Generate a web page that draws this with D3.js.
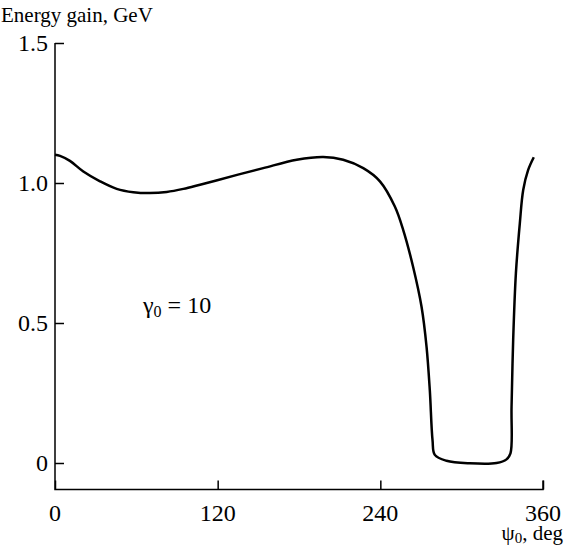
<!DOCTYPE html>
<html>
<head>
<meta charset="utf-8">
<script src="https://cdn.jsdelivr.net/npm/d3@7"></script>
<style>
  body { margin: 0; background: #fff; }
</style>
</head>
<body>
<svg id="chart"></svg>
<script>
// phase angle psi0 (deg) and energy gain (GeV)
const psi = [0, 3.7, 11, 20.9, 33.2, 45.5, 57.8, 70, 82.4, 94.7, 107, 119, 135,
  153.6, 178.3, 197.9, 212.6, 227.4, 239.7, 250.7, 256.9, 264.2, 270.4, 274.1,
  276.5, 278.5, 280.2, 288.8, 306, 325.7, 333.1, 336, 336.8, 338, 340, 342.9,
  345.4, 349, 353.2]
const gain = [1.101, 1.097, 1.079, 1.041, 1.006, 0.979, 0.967, 0.964, 0.968, 0.979, 0.994, 1.009, 1.030,
  1.053, 1.083, 1.093, 1.083, 1.053, 1.006, 0.916, 0.832, 0.70, 0.558, 0.415,
  0.26, 0.082, 0.029, 0.008, -0.001, 0.0, 0.013, 0.034, 0.2, 0.44, 0.677, 0.856,
  0.975, 1.046, 1.092]
const xTicks = [0, 120, 240, 360]
const yTicks = [0, 0.5, 1.0, 1.5]

const width = 567
const height = 547
const serif = "'Liberation Serif'"
const svg = d3.select('#chart').attr('width', width).attr('height', height)

const x = d3.scaleLinear().domain([0, 360]).range([55, 543])
const y = d3.scaleLinear().domain([0, 1.5]).range([463, 43])
const yBottom = 489.5

// axes
const xAxis = d3.axisTop(x).tickValues(xTicks).tickSize(9).tickFormat('')
svg.append('g')
    .attr('transform', 'translate(0,' + yBottom + ')')
    .call(xAxis)
    .call(g => g.select('.domain').remove())
    .call(g => g.selectAll('line').attr('stroke', '#000').attr('stroke-width', 1.5))

const yAxis = d3.axisRight(y).tickValues(yTicks).tickSize(9).tickFormat('')
svg.append('g')
    .attr('transform', 'translate(' + x(0) + ',0)')
    .call(yAxis)
    .call(g => g.select('.domain').remove())
    .call(g => g.selectAll('line').attr('stroke', '#000').attr('stroke-width', 1.5))

svg.append('path')
    .attr('d', 'M' + x(0) + ',' + y(1.5) + 'V' + yBottom + 'H' + x(360) + 'V' + (yBottom - 9))
    .attr('fill', 'none')
    .attr('stroke', '#000')
    .attr('stroke-width', 1.5)

// tick labels
svg.selectAll('.xlab').data(xTicks).enter().append('text')
    .attr('x', d => x(d))
    .attr('y', 521)
    .attr('text-anchor', 'middle')
    .style('font-family', serif)
    .attr('font-size', 24)
    .text(d => d)

svg.selectAll('.ylab').data(yTicks).enter().append('text')
    .attr('x', 48)
    .attr('y', d => y(d) + 8)
    .attr('text-anchor', 'end')
    .style('font-family', serif)
    .attr('font-size', 24)
    .text(d => d === 0 ? '0' : d.toFixed(1))

// axis titles
svg.append('text').attr('x', 1).attr('y', 22).style('font-family', serif)
    .attr('font-size', 21).text('Energy gain, GeV')

const xt = svg.append('text').attr('x', 563).attr('y', 540).attr('text-anchor', 'end')
    .style('font-family', serif).attr('font-size', 21)
xt.append('tspan').text('ψ')
xt.append('tspan').attr('font-size', 15).attr('dy', 3).text('0')
xt.append('tspan').attr('dy', -3).text(', deg')

const lab = svg.append('text').attr('x', 143).attr('y', 313)
    .style('font-family', serif).attr('font-size', 24)
lab.append('tspan').text('γ')
lab.append('tspan').attr('font-size', 16).attr('dy', 4).text('0')
lab.append('tspan').attr('dy', -4).text(' = 10')

// curve
const pts = psi.map((p, i) => [p, gain[i]])
const line = d3.line()
    .x(d => x(d[0]))
    .y(d => y(d[1]))
    .curve(d3.curveCatmullRom.alpha(0.5))

svg.append('path')
    .datum(pts)
    .attr('d', line)
    .attr('fill', 'none')
    .attr('stroke', '#000')
    .attr('stroke-width', 2.5)
</script>
</body>
</html>
